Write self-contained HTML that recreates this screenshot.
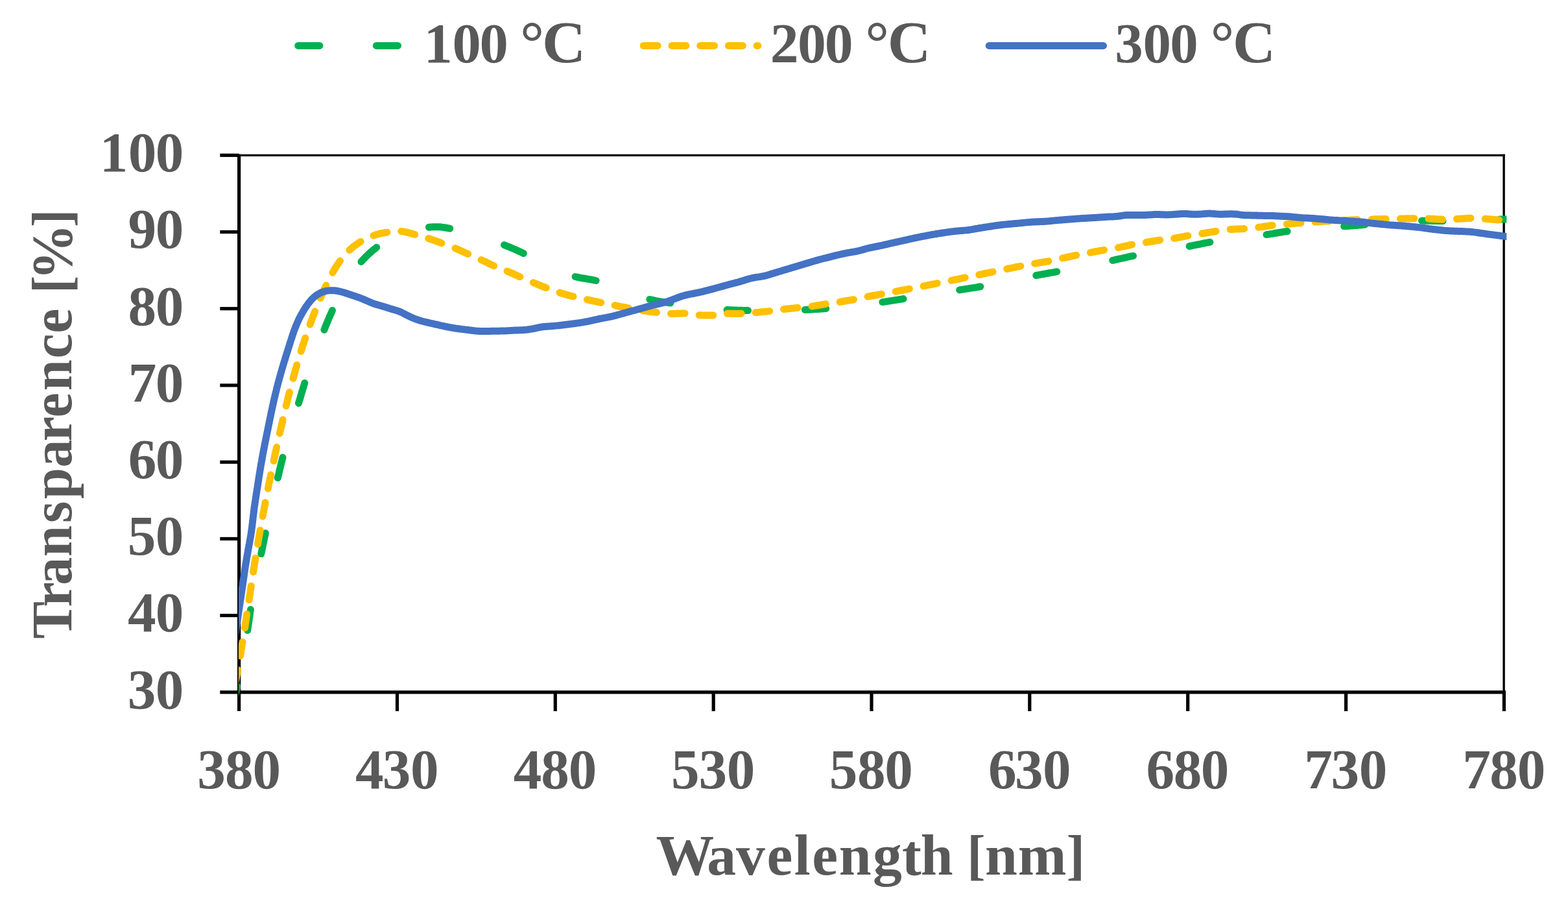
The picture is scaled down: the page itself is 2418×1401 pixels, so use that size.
<!DOCTYPE html>
<html lang="en"><head><meta charset="utf-8"><title>Transparence vs. Wavelength</title>
<style>
html,body{margin:0;padding:0;background:#fff;}
body{width:2418px;height:1401px;overflow:hidden;}
svg{display:block;}
text{font-family:"Liberation Serif", "DejaVu Serif", serif;font-weight:700;font-size:100px;fill:#595959;white-space:pre;}
.ax{stroke:#000;stroke-width:5.2;fill:none;stroke-linecap:butt;}
.s{fill:none;stroke-width:11.0;stroke-linecap:round;stroke-linejoin:round;}
.g{stroke:#00B050;} .y{stroke:#FFC000;} .b{stroke:#4472C4;}
</style></head><body>
<svg width="2418" height="1401" viewBox="0 0 2418 1401">
<rect width="2418" height="1401" fill="#fff"/>
<defs><clipPath id="plot"><rect x="367.9" y="200.0" width="1955.4" height="872.0"/></clipPath></defs>

<g id="legend">
<path class="s g" d="M459.7 70.4H635.8" stroke-dasharray="33.2 87.4"/>
<path class="s y" d="M992.3 70.4H1168.9" stroke-dasharray="21.9 21.8"/>
<path class="s b" d="M1525.2 70.4H1701.5"/>
<text transform="translate(0.00 95.80) scale(0.8868 0.8590)"><tspan x="737.0 786.6 833.9 883.9" y="0.0">100 </tspan><tspan x="904.4 942.8" y="0.0" font-size="105px">°C</tspan></text>
<text transform="translate(0.00 95.80) scale(0.8771 0.8590)"><tspan x="1354.2 1402.3 1450.1 1500.1" y="0.0">200 </tspan><tspan x="1521.3 1560.5" y="0.0" font-size="105px">°C</tspan></text>
<text transform="translate(0.00 95.80) scale(0.8695 0.8590)"><tspan x="1977.4 2027.0 2075.1 2125.1" y="0.0">300 </tspan><tspan x="2146.9 2186.4" y="0.0" font-size="105px">°C</tspan></text>
</g>
<g id="axes">
<path d="M368.6 239.3H2320.8" stroke="#000" stroke-width="3.2" fill="none"/>
<path d="M2319.1 237.7V1066.8" stroke="#000" stroke-width="3.4" fill="none"/>
<path class="ax" d="M368.6 237.7V1096.1"/>
<path class="ax" d="M339.3 1066.8H2322.0"/>
<path class="ax" d="M339.3 239.3H368.6"/>
<path class="ax" d="M339.3 357.5H368.6"/>
<path class="ax" d="M339.3 475.7H368.6"/>
<path class="ax" d="M339.3 593.9H368.6"/>
<path class="ax" d="M339.3 712.2H368.6"/>
<path class="ax" d="M339.3 830.4H368.6"/>
<path class="ax" d="M339.3 948.6H368.6"/>
<path class="ax" d="M612.5 1066.8V1096.1"/>
<path class="ax" d="M856.3 1066.8V1096.1"/>
<path class="ax" d="M1100.2 1066.8V1096.1"/>
<path class="ax" d="M1344.0 1066.8V1096.1"/>
<path class="ax" d="M1587.8 1066.8V1096.1"/>
<path class="ax" d="M1831.7 1066.8V1096.1"/>
<path class="ax" d="M2075.6 1066.8V1096.1"/>
<path class="ax" d="M2319.4 1066.8V1096.1"/>
</g>
<g id="ylabels">
<text transform="translate(0.00 264.15) scale(0.8720 0.8590)"><tspan x="176.2 226.7 275.0" y="0.0">100</tspan></text>
<text transform="translate(0.00 382.36) scale(0.8720 0.8590)"><tspan x="226.5 275.0" y="0.0">90</tspan></text>
<text transform="translate(0.00 500.58) scale(0.8720 0.8590)"><tspan x="226.6 275.0" y="0.0">80</tspan></text>
<text transform="translate(0.00 618.79) scale(0.8720 0.8590)"><tspan x="226.7 275.0" y="0.0">70</tspan></text>
<text transform="translate(0.00 737.01) scale(0.8720 0.8590)"><tspan x="226.7 275.0" y="0.0">60</tspan></text>
<text transform="translate(0.00 855.22) scale(0.8720 0.8590)"><tspan x="225.5 275.0" y="0.0">50</tspan></text>
<text transform="translate(0.00 973.44) scale(0.8720 0.8590)"><tspan x="225.9 275.0" y="0.0">40</tspan></text>
<text transform="translate(0.00 1091.65) scale(0.8720 0.8590)"><tspan x="225.5 275.0" y="0.0">30</tspan></text>
</g>
<g id="xlabels">
<text transform="translate(0.00 1214.75) scale(0.8720 0.8590)"><tspan x="348.8 398.0 446.6" y="0.0">380</tspan></text>
<text transform="translate(0.00 1214.75) scale(0.8720 0.8590)"><tspan x="628.4 676.2 725.9" y="0.0">430</tspan></text>
<text transform="translate(0.00 1214.75) scale(0.8720 0.8590)"><tspan x="908.1 956.8 1005.5" y="0.0">480</tspan></text>
<text transform="translate(0.00 1214.75) scale(0.8720 0.8590)"><tspan x="1187.0 1235.7 1285.3" y="0.0">530</tspan></text>
<text transform="translate(0.00 1214.75) scale(0.8720 0.8590)"><tspan x="1466.5 1516.0 1564.6" y="0.0">580</tspan></text>
<text transform="translate(0.00 1214.75) scale(0.8720 0.8590)"><tspan x="1747.8 1794.8 1844.0" y="0.0">630</tspan></text>
<text transform="translate(0.00 1214.75) scale(0.8720 0.8590)"><tspan x="2026.9 2075.3 2123.7" y="0.0">680</tspan></text>
<text transform="translate(0.00 1214.75) scale(0.8720 0.8590)"><tspan x="2306.6 2353.8 2403.3" y="0.0">730</tspan></text>
<text transform="translate(0.00 1214.75) scale(0.8720 0.8590)"><tspan x="2586.4 2634.5 2683.1" y="0.0">780</tspan></text>
</g>
<g id="titles">
<text transform="translate(0.00 1347.90) scale(0.8973 0.8850)"><tspan x="1127.4 1215.1 1264.9 1317.9 1364.8 1395.5 1441.7 1500.2 1550.1 1582.3 1637.9" y="0.0">Wavelength </tspan><tspan x="1661.6" y="-2.5" font-size="96px">[</tspan><tspan x="1692.8 1749.3" y="0.0">nm</tspan><tspan x="1832.6" y="-2.5" font-size="96px">]</tspan></text>
<text transform="translate(110.00 982.00) rotate(-90) scale(0.8630 0.8850)"><tspan x="-2.8 53.9 93.0 143.8 203.9 246.7 302.9 349.7 392.1 439.9 497.6 542.6 587.0" y="0.0">Transparence </tspan><tspan x="613.8" y="-2.5" font-size="96px">[</tspan><tspan x="637.9" y="0.0">%</tspan><tspan x="732.1" y="-2.5" font-size="96px">]</tspan></text>
</g>
<g id="series" clip-path="url(#plot)">
<path class="s g" d="M360.5 1082L361.1 1079L361.8 1076L362.5 1072.9L363.1 1069.9L363.8 1066.9L364.4 1063.9L365.1 1060.9L365.7 1057.8M381.7 971.6L382.2 968.4L382.6 965.2L383.1 962L383.6 958.8L384 955.6L384.5 952.3L385 949.1L385.4 945.9L385.9 942.7L386.4 939.5M402.8 853.6L403.4 850.4L404.1 847.2L404.7 844L405.4 840.8L406 837.7L406.7 834.5L407.3 831.3L408 828.1L408.7 824.9L409.3 821.7M428.4 736.6L429.1 733.4L429.9 730.3L430.6 727.1L431.3 724L432.1 720.8L432.8 717.6L433.6 714.5L434.4 711.3L435.2 708.2L436 705M460.5 621.4L461.4 618.3L462.4 615.2L463.3 612.1L464.2 608.9L465.1 605.8L466 602.7L467 599.6L467.9 596.5L468.9 593.4L469.8 590.3M499.9 508.4L501.1 505.3L502.3 502.3L503.6 499.3L504.8 496.3L506.1 493.3L507.3 490.3L508.6 487.3L509.9 484.4L511.2 481.4L512.5 478.4M557 403.4L559.2 401L561.4 398.6L563.7 396.3L566 394L568.3 391.8L570.7 389.6L573.1 387.4L575.6 385.3L578.2 383.3L580.7 381.3M661.4 350.2L664.6 349.9L667.9 349.7L671.1 349.7L674.4 349.7L677.6 349.8L680.9 350.1L684.1 350.5L687.3 351L690.5 351.6L693.7 352.2M777.5 377.6L780.6 378.8L783.6 380L786.6 381.2L789.6 382.5L792.6 383.8L795.5 385.1L798.5 386.4L801.5 387.8L804.4 389.1L807.3 390.5M887.1 426.5L890.3 427.2L893.5 427.9L896.7 428.5L899.9 429L903.1 429.5L906.3 430.1L909.5 430.6L912.7 431.2L915.9 431.8L919.1 432.5M1001.9 461.5L1005.1 462.2L1008.3 462.9L1011.4 463.6L1014.6 464.1L1017.8 464.7L1021.1 465.2L1024.3 465.6L1027.5 466.1L1030.7 466.5L1033.9 467M1121.1 477.5L1124.3 477.7L1127.6 477.8L1130.8 478L1134 478.1L1137.3 478.2L1140.5 478.3L1143.8 478.3L1147 478.4L1150.3 478.5L1153.5 478.5M1241.3 477.5L1244.5 477.3L1247.8 477.2L1251 477L1254.3 476.8L1257.5 476.6L1260.8 476.4L1264 476.2L1267.3 476L1270.5 475.7L1273.7 475.5M1360.9 465.6L1364.1 465.1L1367.3 464.6L1370.5 464.1L1373.8 463.6L1377 463.1L1380.2 462.6L1383.4 462.1L1386.6 461.6L1389.8 461.1L1393 460.6M1479.7 446.9L1482.9 446.4L1486.1 445.9L1489.3 445.4L1492.5 444.9L1495.7 444.4L1499 443.9L1502.2 443.4L1505.4 442.9L1508.6 442.3L1511.8 441.8M1597.8 424.5L1601 423.9L1604.2 423.3L1607.4 422.7L1610.6 422.2L1613.8 421.6L1617 421L1620.2 420.4L1623.4 419.9L1626.6 419.3L1629.8 418.7M1715.8 401.3L1719 400.6L1722.1 399.9L1725.3 399.2L1728.5 398.5L1731.6 397.8L1734.8 397.1L1738 396.4L1741.2 395.7L1744.3 395L1747.5 394.4M1834.1 379.5L1837.2 378.9L1840.4 378.2L1843.6 377.6L1846.8 376.9L1850 376.3L1853.2 375.6L1856.4 375L1859.5 374.4L1862.7 373.8L1865.9 373.2M1953 361.6L1956.2 361.1L1959.4 360.6L1962.6 360.1L1965.9 359.5L1969.1 359L1972.3 358.5L1975.5 358L1978.7 357.4L1981.9 356.9L1985.1 356.5M2072.6 348.8L2075.8 348.6L2079.1 348.4L2082.3 348.1L2085.6 347.9L2088.8 347.6L2092 347.4L2095.3 347.1L2098.5 346.9L2101.8 346.6L2105 346.3M2192.5 340.2L2195.8 340.2L2199 340.2L2202.3 340.3L2205.5 340.3L2208.8 340.4L2212 340.4L2215.3 340.5L2218.5 340.5L2221.8 340.6L2225 340.6M2312.6 338.1L2315.8 338L2319 338L2322.2 338L2325.4 338L2328.6 338L2331.8 338L2335 338"/>
<path class="s y" d="M362.6 1053.8L363.2 1050.7L363.8 1047.7L364.4 1044.7L365 1041.6L365.5 1038.6L366.1 1035.6L366.6 1032.5M370.5 1010.8L371 1007.7L371.5 1004.7L372 1001.7L372.5 998.6L373 995.6L373.5 992.5L374 989.5M377.5 967.7L378 964.7L378.4 961.6L378.9 958.6L379.4 955.5L379.8 952.5L380.3 949.4L380.8 946.4M384 924.6L384.5 921.6L385 918.5L385.4 915.5L385.9 912.4L386.3 909.4L386.8 906.3L387.3 903.3M390.6 881.6L391.1 878.5L391.5 875.5L392 872.4L392.5 869.4L393 866.3L393.5 863.3L394 860.2M397.6 838.6L398.1 835.6L398.6 832.5L399.1 829.5L399.6 826.5L400.2 823.4L400.7 820.4L401.2 817.3M405.1 795.8L405.7 792.7L406.3 789.7L406.8 786.7L407.4 783.6L408 780.6L408.6 777.6L409.1 774.5M413.3 753L413.9 750L414.5 747L415.1 743.9L415.8 740.9L416.4 737.9L417 734.9L417.6 731.8M422.1 710.4L422.7 707.3L423.4 704.3L424 701.3L424.7 698.3L425.3 695.3L426 692.3L426.6 689.2M431.3 667.9L432 664.9L432.7 661.9L433.4 658.9L434.1 655.9L434.8 652.9L435.5 649.9L436.1 646.9M441.2 625.6L441.9 622.6L442.7 619.6L443.4 616.6L444.1 613.6L444.9 610.6L445.6 607.6L446.4 604.6M452 583.3L452.8 580.3L453.6 577.4L454.5 574.4L455.3 571.4L456.1 568.4L457 565.5L457.8 562.5M464.2 541.4L465.1 538.5L466 535.5L466.9 532.6L467.9 529.7L468.9 526.7L469.8 523.8L470.8 520.9M478.1 500.1L479.1 497.2L480.2 494.3L481.3 491.4L482.4 488.5L483.5 485.7L484.6 482.8L485.7 479.9M494.1 459.5L495.3 456.7L496.5 453.9L497.8 451.1L499 448.2L500.3 445.4L501.6 442.6L502.9 439.8M512.9 420.3L514.4 417.6L516 414.9L517.6 412.3L519.2 409.7L520.9 407.1L522.7 404.6L524.5 402.1M538.9 385.5L541.2 383.4L543.5 381.4L545.9 379.4L548.4 377.6L550.9 375.8L553.5 374.1L556.1 372.4M576 363.1L578.9 362.1L581.8 361.2L584.8 360.4L587.8 359.7L590.9 359.1L593.9 358.6L596.9 358.1M618.7 356.4L621.7 356.9L624.8 357.5L627.8 358.2L630.8 358.9L633.8 359.7L636.7 360.6L639.7 361.4M660.8 367.6L663.7 368.5L666.7 369.5L669.6 370.5L672.5 371.5L675.4 372.6L678.3 373.7L681.1 374.8M702 382.6L704.8 383.9L707.7 385.1L710.5 386.4L713.3 387.6L716.1 388.9L718.9 390.2L721.7 391.4M742.1 400.4L744.9 401.8L747.7 403.1L750.5 404.4L753.3 405.8L756 407.1L758.8 408.4L761.6 409.7M782.1 417.9L784.9 419.2L787.8 420.4L790.6 421.6L793.4 422.9L796.2 424.1L799.1 425.4L801.9 426.6M822.3 435.5L825.1 436.7L828 437.9L830.8 439.1L833.7 440.2L836.5 441.4L839.4 442.5L842.3 443.6M863.1 451L866 451.9L869 452.9L872 453.7L874.9 454.6L877.9 455.4L880.9 456.2L883.9 456.9M905.5 461.8L908.5 462.5L911.6 463.1L914.6 463.8L917.6 464.4L920.6 465L923.6 465.6L926.7 466.3M948.1 470.7L951.1 471.4L954.2 472L957.2 472.6L960.2 473.2L963.2 473.8L966.3 474.3L969.3 474.9M991.1 478.7L994.2 479.1L997.2 479.5L1000.3 480L1003.3 480.4L1006.4 480.8L1009.5 481.1L1012.5 481.5M1034.5 483.6L1037.6 483.5L1040.7 483.4L1043.8 483.3L1046.8 483.3L1049.9 483.1L1053 483L1056.1 483M1078.2 485.7L1081.3 485.8L1084.4 485.9L1087.4 485.9L1090.5 486L1093.6 486L1096.7 486L1099.8 485.9M1121.5 483.3L1124.5 483.3L1127.6 483.3L1130.7 483.4L1133.8 483.4L1136.9 483.4L1140 483.4L1143.1 483.3M1165.2 481.6L1168.2 481.4L1171.3 481.1L1174.4 480.8L1177.5 480.5L1180.5 480.2L1183.6 479.9L1186.7 479.6M1208.6 476.6L1211.6 476.3L1214.7 475.9L1217.8 475.6L1220.8 475.3L1223.9 475L1227 474.6L1230 474.3M1252 472.1L1255.1 471.6L1258.1 471.1L1261.2 470.6L1264.2 470.1L1267.2 469.6L1270.3 469.1L1273.3 468.6M1295.1 465.4L1298.2 464.8L1301.2 464.3L1304.3 463.8L1307.3 463.3L1310.3 462.7L1313.4 462.2L1316.4 461.7M1338.1 457.1L1341.2 456.6L1344.2 456L1347.2 455.5L1350.3 455L1353.3 454.4L1356.3 453.9L1359.4 453.3M1381.1 449.3L1384.2 448.7L1387.2 448.1L1390.2 447.5L1393.3 446.9L1396.3 446.4L1399.3 445.8L1402.3 445.2M1424.1 440.9L1427.1 440.3L1430.2 439.7L1433.2 439.1L1436.2 438.5L1439.2 437.9L1442.3 437.3L1445.3 436.7M1467.1 432.3L1470.1 431.6L1473.1 431L1476.1 430.4L1479.1 429.8L1482.2 429.1L1485.2 428.5L1488.2 427.9M1509.8 423.4L1512.9 422.8L1515.9 422.2L1518.9 421.5L1521.9 420.9L1524.9 420.3L1528 419.7L1531 419M1552.7 414.5L1555.7 413.9L1558.7 413.3L1561.7 412.7L1564.7 412L1567.8 411.4L1570.8 410.8L1573.8 410.2M1595.6 406.1L1598.7 405.6L1601.7 405.1L1604.8 404.6L1607.8 404.1L1610.8 403.6L1613.9 403.1L1616.9 402.6M1638.5 397.9L1641.6 397.3L1644.6 396.6L1647.6 396L1650.6 395.3L1653.6 394.7L1656.6 394L1659.7 393.4M1681.4 389.3L1684.4 388.7L1687.4 388.1L1690.5 387.5L1693.5 387L1696.5 386.4L1699.6 385.9L1702.6 385.3M1724.5 381.7L1727.5 381L1730.5 380.4L1733.5 379.7L1736.5 379L1739.5 378.4L1742.5 377.7L1745.6 377M1767.4 373.5L1770.4 373L1773.5 372.5L1776.5 372L1779.6 371.5L1782.6 371L1785.7 370.5L1788.7 370M1810.7 367.3L1813.7 366.8L1816.7 366.2L1819.8 365.6L1822.8 365L1825.8 364.5L1828.9 363.9L1831.9 363.4M1853.8 360L1856.8 359.5L1859.9 359L1862.9 358.5L1865.9 358L1869 357.5L1872 357L1875.1 356.5M1897.1 353.5L1900.1 353.4L1903.2 353.2L1906.3 353.1L1909.4 353L1912.5 352.8L1915.5 352.7L1918.6 352.6M1940.8 350.3L1943.9 349.9L1946.9 349.5L1950 349L1953 348.6L1956.1 348.2L1959.1 347.8L1962.2 347.4M1984.4 345.4L1987.5 345.1L1990.6 344.9L1993.6 344.6L1996.7 344.4L1999.8 344.1L2002.9 343.9L2005.9 343.7M2028.2 342.1L2031.3 341.9L2034.4 341.7L2037.4 341.5L2040.5 341.3L2043.6 341.1L2046.7 341L2049.8 340.8M2072 339.6L2075 339.5L2078.1 339.4L2081.2 339.2L2084.3 339.1L2087.4 339L2090.5 338.8L2093.5 338.7M2115.6 338L2118.7 337.9L2121.8 337.8L2124.9 337.7L2128 337.6L2131 337.5L2134.1 337.5L2137.2 337.4M2159.3 337L2162.4 336.9L2165.4 336.9L2168.5 336.8L2171.6 336.8L2174.7 336.8L2177.8 336.7L2180.9 336.7M2202.9 337L2206 337.2L2209.1 337.4L2212.2 337.5L2215.2 337.7L2218.3 337.9L2221.4 338.1L2224.5 338.3M2246.4 337.5L2249.5 337.3L2252.6 337.1L2255.7 336.9L2258.8 336.7L2261.8 336.5L2264.9 336.3L2268 336.2M2290.1 337.3L2293.1 337.5L2296.2 337.8L2299.3 338L2302.4 338.2L2305.4 338.4L2308.5 338.7L2311.6 338.9M2333.1 338.2L2335 338.3"/>
<path class="s b" d="M359.5 1000L359.8 998L360.1 996L360.4 994.1L360.7 992.1L361 990.1L361.3 988.1L361.6 986.2L361.9 984.2L362.2 982.2L362.5 980.2L362.8 978.2L363.1 976.3L363.4 974.3L363.7 972.3L363.9 970.3L364.2 968.3L364.5 966.4L364.8 964.4L365.1 962.4L365.4 960.4L365.7 958.5L366 956.5L366.3 954.5L366.6 952.5L366.9 950.5L367.2 948.6L367.5 946.6L367.8 944.6L368.1 942.6L368.4 940.6L368.7 938.7L369 936.7L369.3 934.7L369.6 932.7L369.9 930.8L370.2 928.8L370.5 926.8L370.8 924.8L371.1 922.8L371.4 920.9L371.7 918.9L371.9 916.9L372.2 914.9L372.5 912.9L372.8 911L373.1 909L373.4 907L373.7 905L374 903L374.3 901.1L374.5 899.1L374.8 897.1L375.1 895.1L375.4 893.1L375.7 891.2L376 889.2L376.3 887.2L376.5 885.2L376.8 883.2L377.1 881.3L377.4 879.3L377.7 877.3L378 875.3L378.3 873.4L378.6 871.4L378.9 869.4L379.3 867.4L379.6 865.5L379.9 863.5L380.2 861.5L380.6 859.5L380.9 857.6L381.3 855.6L381.6 853.6L382 851.7L382.3 849.7L382.7 847.7L383 845.7L383.4 843.8L383.7 841.8L384.1 839.8L384.5 837.9L384.8 835.9L385.2 833.9L385.5 832L385.9 830L386.2 828L386.6 826.1L386.9 824.1L387.2 822.1L387.5 820.1L387.8 818.1L388 816.2L388.3 814.2L388.6 812.2L388.8 810.2L389 808.2L389.3 806.2L389.5 804.3L389.7 802.3L390 800.3L390.2 798.3L390.4 796.3L390.7 794.3L390.9 792.3L391.1 790.3L391.4 788.4L391.6 786.4L391.9 784.4L392.1 782.4L392.4 780.4L392.7 778.4L393 776.5L393.3 774.5L393.6 772.5L393.9 770.5L394.2 768.5L394.5 766.6L394.8 764.6L395.1 762.6L395.4 760.6L395.7 758.7L396 756.7L396.3 754.7L396.7 752.7L397 750.8L397.3 748.8L397.6 746.8L397.9 744.8L398.2 742.9L398.5 740.9L398.8 738.9L399.1 736.9L399.4 734.9L399.7 733L400.1 731L400.4 729L400.7 727L401 725.1L401.3 723.1L401.7 721.1L402 719.2L402.3 717.2L402.7 715.2L403 713.2L403.4 711.3L403.7 709.3L404.1 707.3L404.4 705.4L404.8 703.4L405.1 701.4L405.5 699.5L405.9 697.5L406.2 695.5L406.6 693.6L407 691.6L407.4 689.6L407.7 687.7L408.1 685.7L408.5 683.7L408.9 681.8L409.3 679.8L409.7 677.9L410.1 675.9L410.5 673.9L410.9 672L411.3 670L411.7 668L412.1 666.1L412.5 664.1L412.9 662.2L413.3 660.2L413.7 658.2L414.1 656.3L414.5 654.3L414.9 652.4L415.3 650.4L415.7 648.4L416.1 646.5L416.5 644.5L416.9 642.6L417.3 640.6L417.7 638.6L418.1 636.7L418.5 634.7L418.9 632.8L419.4 630.8L419.8 628.9L420.2 626.9L420.6 625L421.1 623L421.5 621.1L421.9 619.1L422.4 617.1L422.8 615.2L423.3 613.2L423.7 611.3L424.2 609.4L424.6 607.4L425.1 605.5L425.6 603.5L426.1 601.6L426.5 599.6L427 597.7L427.5 595.8L428 593.8L428.5 591.9L429 589.9L429.5 588L430.1 586.1L430.6 584.1L431.1 582.2L431.6 580.3L432.2 578.4L432.7 576.4L433.3 574.5L433.8 572.6L434.4 570.7L434.9 568.7L435.5 566.8L436.1 564.9L436.6 563L437.2 561.1L437.8 559.2L438.4 557.2L439 555.3L439.6 553.4L440.1 551.5L440.7 549.6L441.3 547.7L441.9 545.8L442.5 543.9L443.1 542L443.7 540.1L444.3 538.2L444.9 536.2L445.5 534.3L446.1 532.4L446.7 530.5L447.3 528.6L447.9 526.7L448.5 524.8L449.2 522.9L449.8 521L450.4 519.1L451 517.1L451.6 515.2L452.3 513.4L452.9 511.5L453.6 509.6L454.3 507.7L455 505.8L455.7 504L456.5 502.1L457.2 500.2L458 498.4L458.8 496.6L459.6 494.8L460.5 492.9L461.3 491.1L462.2 489.4L463.2 487.6L464.1 485.8L465.1 484.1L466.1 482.3L467.1 480.6L468.1 478.9L469.1 477.2L470.2 475.5L471.3 473.8L472.4 472.1L473.5 470.5L474.7 468.8L475.9 467.2L477.1 465.7L478.4 464.1L479.7 462.6L481.1 461.1L482.5 459.7L483.9 458.3L485.5 457L487 455.8L488.7 454.6L490.3 453.5L492.1 452.5L493.9 451.6L495.7 450.8L497.5 450L499.4 449.4L501.4 448.8L503.3 448.4L505.3 448.1L507.3 447.9L509.3 447.7L511.3 447.7L513.3 447.7L515.3 447.8L517.3 448L519.3 448.3L521.3 448.6L523.2 449L525.2 449.5L527.1 450L529 450.5L531 451.1L532.9 451.7L534.8 452.3L536.7 452.9L538.6 453.6L540.5 454.2L542.4 454.8L544.3 455.5L546.2 456.1L548.1 456.7L550 457.4L551.9 458L553.7 458.7L555.6 459.4L557.5 460.1L559.3 460.8L561.2 461.6L563 462.4L564.9 463.2L566.7 464L568.5 464.8L570.4 465.6L572.2 466.4L574.1 467.1L575.9 467.8L577.8 468.5L579.7 469.1L581.6 469.7L583.6 470.2L585.5 470.8L587.4 471.3L589.3 471.9L591.3 472.4L593.2 473L595.1 473.6L597 474.2L598.9 474.8L600.8 475.4L602.7 476L604.6 476.6L606.6 477.1L608.5 477.7L610.4 478.2L612.3 478.8L614.2 479.4L616.1 480.1L617.9 480.9L619.7 481.8L621.5 482.7L623.3 483.6L625.1 484.6L626.9 485.5L628.7 486.4L630.5 487.3L632.3 488.1L634.1 489L635.9 489.8L637.7 490.5L639.6 491.3L641.5 492L643.4 492.7L645.3 493.3L647.2 493.9L649.1 494.4L651 495L653 495.5L654.9 496L656.8 496.5L658.8 496.9L660.7 497.4L662.7 497.8L664.6 498.3L666.6 498.7L668.5 499.1L670.5 499.6L672.5 500L674.4 500.4L676.4 500.9L678.3 501.3L680.3 501.8L682.2 502.2L684.2 502.6L686.1 503.1L688.1 503.5L690 503.9L692 504.3L694 504.6L695.9 505L697.9 505.3L699.9 505.6L701.9 506L703.8 506.3L705.8 506.5L707.8 506.8L709.8 507.1L711.8 507.3L713.7 507.6L715.7 507.8L717.7 508.1L719.7 508.3L721.7 508.5L723.7 508.8L725.7 509L727.7 509.3L729.6 509.5L731.6 509.8L733.6 510L735.6 510.2L737.6 510.3L739.6 510.5L741.6 510.6L743.6 510.6L745.6 510.6L747.6 510.6L749.6 510.6L751.6 510.5L753.6 510.5L755.6 510.4L757.6 510.3L759.6 510.3L761.6 510.2L763.6 510.2L765.6 510.2L767.6 510.2L769.6 510.2L771.6 510.1L773.6 510.1L775.6 510.1L777.6 510L779.6 509.9L781.6 509.8L783.6 509.7L785.6 509.6L787.6 509.4L789.6 509.3L791.6 509.2L793.6 509.1L795.6 509L797.6 509L799.6 508.9L801.6 508.8L803.6 508.8L805.6 508.7L807.6 508.5L809.6 508.4L811.6 508.2L813.5 508L815.5 507.7L817.5 507.4L819.5 507.1L821.5 506.8L823.4 506.4L825.4 506L827.3 505.5L829.3 505.1L831.3 504.7L833.2 504.3L835.2 504L837.2 503.7L839.2 503.5L841.1 503.3L843.1 503.2L845.1 503L847.1 502.9L849.1 502.7L851.1 502.6L853.1 502.4L855.1 502.3L857.1 502.1L859.1 501.9L861.1 501.7L863.1 501.5L865.1 501.3L867.1 501L869 500.8L871 500.5L873 500.3L875 500L877 499.8L879 499.5L880.9 499.3L882.9 499L884.9 498.8L886.9 498.5L888.9 498.2L890.9 497.9L892.8 497.7L894.8 497.4L896.8 497.1L898.8 496.7L900.7 496.4L902.7 496L904.7 495.7L906.6 495.3L908.6 494.9L910.6 494.5L912.5 494L914.5 493.6L916.4 493.2L918.4 492.7L920.3 492.3L922.3 491.9L924.2 491.4L926.2 491L928.2 490.7L930.1 490.3L932.1 489.9L934.1 489.6L936 489.2L938 488.8L940 488.4L941.9 488L943.9 487.6L945.8 487.1L947.7 486.6L949.7 486.1L951.6 485.6L953.5 485L955.5 484.5L957.4 484L959.3 483.4L961.2 482.9L963.2 482.4L965.1 481.8L967 481.3L969 480.8L970.9 480.3L972.8 479.7L974.8 479.2L976.7 478.7L978.6 478.2L980.6 477.7L982.5 477.2L984.4 476.6L986.4 476.1L988.3 475.6L990.2 475L992.1 474.5L994.1 473.9L996 473.4L997.9 472.8L999.8 472.3L1001.8 471.8L1003.7 471.2L1005.6 470.7L1007.6 470.2L1009.5 469.8L1011.5 469.3L1013.4 468.8L1015.4 468.4L1017.3 467.9L1019.2 467.5L1021.2 467L1023.1 466.5L1025.1 466L1027 465.4L1028.9 464.8L1030.8 464.1L1032.7 463.5L1034.5 462.8L1036.4 462.1L1038.3 461.4L1040.2 460.7L1042 460L1043.9 459.2L1045.8 458.5L1047.6 457.8L1049.5 457.2L1051.4 456.5L1053.3 456L1055.3 455.4L1057.2 454.9L1059.2 454.5L1061.1 454L1063.1 453.6L1065 453.2L1067 452.9L1069 452.5L1070.9 452.1L1072.9 451.7L1074.9 451.3L1076.8 450.9L1078.8 450.5L1080.7 450L1082.7 449.6L1084.6 449.1L1086.5 448.6L1088.5 448.1L1090.4 447.6L1092.4 447.1L1094.3 446.6L1096.2 446.1L1098.2 445.6L1100.1 445.1L1102 444.6L1104 444L1105.9 443.5L1107.8 443L1109.7 442.5L1111.7 441.9L1113.6 441.4L1115.5 440.8L1117.5 440.3L1119.4 439.8L1121.3 439.2L1123.2 438.7L1125.2 438.2L1127.1 437.7L1129.1 437.2L1131 436.7L1132.9 436.2L1134.9 435.7L1136.8 435.2L1138.7 434.7L1140.7 434.1L1142.6 433.6L1144.5 433L1146.4 432.4L1148.3 431.8L1150.2 431.2L1152.1 430.6L1154 430L1156 429.5L1157.9 429L1159.9 428.5L1161.8 428.1L1163.8 427.8L1165.8 427.4L1167.7 427.1L1169.7 426.9L1171.7 426.6L1173.7 426.2L1175.6 425.9L1177.6 425.5L1179.6 425.1L1181.5 424.6L1183.4 424.1L1185.4 423.5L1187.3 422.9L1189.2 422.3L1191.1 421.7L1193 421.1L1194.9 420.6L1196.8 420L1198.7 419.4L1200.7 418.8L1202.6 418.2L1204.5 417.7L1206.4 417.1L1208.3 416.5L1210.2 415.9L1212.2 415.4L1214.1 414.8L1216 414.2L1217.9 413.7L1219.8 413.1L1221.7 412.5L1223.7 411.9L1225.6 411.4L1227.5 410.8L1229.4 410.2L1231.3 409.7L1233.2 409.1L1235.2 408.5L1237.1 407.9L1239 407.4L1240.9 406.8L1242.8 406.2L1244.7 405.6L1246.7 405.1L1248.6 404.5L1250.5 403.9L1252.4 403.3L1254.3 402.7L1256.2 402.2L1258.2 401.6L1260.1 401.1L1262 400.6L1263.9 400L1265.9 399.5L1267.8 399L1269.8 398.5L1271.7 398L1273.6 397.6L1275.6 397.1L1277.5 396.6L1279.5 396.1L1281.4 395.6L1283.3 395.1L1285.3 394.6L1287.2 394.1L1289.2 393.6L1291.1 393.2L1293 392.7L1295 392.3L1296.9 391.8L1298.9 391.4L1300.8 391L1302.8 390.6L1304.8 390.2L1306.7 389.8L1308.7 389.4L1310.7 389.1L1312.7 388.8L1314.6 388.4L1316.6 388.1L1318.6 387.8L1320.5 387.4L1322.5 387L1324.5 386.5L1326.4 386L1328.3 385.5L1330.2 384.9L1332.2 384.4L1334.1 383.8L1336 383.3L1337.9 382.8L1339.9 382.3L1341.8 381.9L1343.8 381.5L1345.8 381.1L1347.7 380.7L1349.7 380.3L1351.6 379.9L1353.6 379.5L1355.6 379.1L1357.5 378.7L1359.5 378.3L1361.4 377.9L1363.4 377.4L1365.3 377L1367.3 376.5L1369.2 376.1L1371.2 375.6L1373.1 375.2L1375.1 374.7L1377 374.3L1379 373.8L1380.9 373.4L1382.9 373L1384.8 372.6L1386.8 372.1L1388.8 371.7L1390.7 371.3L1392.7 370.8L1394.6 370.4L1396.6 370L1398.5 369.5L1400.5 369.1L1402.4 368.7L1404.4 368.2L1406.3 367.8L1408.3 367.4L1410.2 366.9L1412.2 366.5L1414.2 366.1L1416.1 365.7L1418.1 365.3L1420 364.9L1422 364.5L1424 364.1L1425.9 363.8L1427.9 363.4L1429.9 363L1431.8 362.6L1433.8 362.3L1435.8 361.9L1437.7 361.5L1439.7 361.2L1441.7 360.9L1443.6 360.5L1445.6 360.2L1447.6 359.9L1449.6 359.6L1451.5 359.3L1453.5 359L1455.5 358.7L1457.5 358.4L1459.5 358.1L1461.4 357.8L1463.4 357.6L1465.4 357.3L1467.4 357L1469.4 356.8L1471.4 356.6L1473.4 356.3L1475.3 356.1L1477.3 356L1479.3 355.8L1481.3 355.6L1483.3 355.5L1485.3 355.3L1487.3 355.1L1489.3 354.9L1491.3 354.7L1493.3 354.5L1495.2 354.2L1497.2 353.9L1499.2 353.6L1501.2 353.2L1503.1 352.9L1505.1 352.5L1507.1 352.2L1509.1 351.8L1511 351.5L1513 351.2L1515 350.9L1517 350.5L1518.9 350.2L1520.9 349.9L1522.9 349.6L1524.9 349.3L1526.8 349L1528.8 348.7L1530.8 348.4L1532.8 348.1L1534.8 347.8L1536.7 347.5L1538.7 347.3L1540.7 347L1542.7 346.8L1544.7 346.5L1546.7 346.3L1548.6 346.1L1550.6 345.9L1552.6 345.7L1554.6 345.5L1556.6 345.3L1558.6 345.2L1560.6 345L1562.6 344.8L1564.6 344.6L1566.6 344.5L1568.6 344.3L1570.6 344.1L1572.6 343.9L1574.5 343.7L1576.5 343.5L1578.5 343.3L1580.5 343.1L1582.5 342.9L1584.5 342.7L1586.5 342.6L1588.5 342.4L1590.5 342.2L1592.5 342.1L1594.5 342L1596.5 341.9L1598.5 341.8L1600.5 341.7L1602.5 341.7L1604.5 341.6L1606.5 341.5L1608.5 341.5L1610.5 341.3L1612.5 341.2L1614.5 341.1L1616.4 340.9L1618.4 340.7L1620.4 340.5L1622.4 340.3L1624.4 340.1L1626.4 339.9L1628.4 339.7L1630.4 339.6L1632.4 339.4L1634.4 339.2L1636.4 339L1638.4 338.9L1640.4 338.7L1642.4 338.5L1644.3 338.4L1646.3 338.2L1648.3 338L1650.3 337.9L1652.3 337.7L1654.3 337.6L1656.3 337.4L1658.3 337.3L1660.3 337.1L1662.3 337L1664.3 336.9L1666.3 336.7L1668.3 336.6L1670.3 336.5L1672.3 336.4L1674.3 336.3L1676.3 336.2L1678.3 336.1L1680.3 336L1682.3 335.8L1684.3 335.7L1686.3 335.6L1688.3 335.5L1690.3 335.4L1692.3 335.2L1694.2 335.1L1696.2 335L1698.2 334.8L1700.2 334.7L1702.2 334.6L1704.2 334.4L1706.2 334.3L1708.2 334.2L1710.2 334.1L1712.2 334L1714.2 334L1716.2 333.9L1718.2 333.8L1720.2 333.6L1722.2 333.5L1724.2 333.3L1726.2 333L1728.2 332.7L1730.1 332.4L1732.1 332.1L1734.1 331.8L1736.1 331.7L1738.1 331.5L1740.1 331.5L1742.1 331.5L1744.1 331.4L1746.1 331.4L1748.1 331.4L1750.1 331.4L1752.1 331.5L1754.1 331.5L1756.1 331.5L1758.1 331.5L1760.1 331.5L1762.1 331.4L1764.1 331.4L1766.1 331.4L1768.1 331.3L1770.1 331.2L1772.1 331.1L1774.1 331L1776.1 330.9L1778.1 330.7L1780.1 330.6L1782.1 330.5L1784.1 330.5L1786.1 330.5L1788.1 330.6L1790.1 330.7L1792.1 330.7L1794.1 330.8L1796.1 330.9L1798.1 330.9L1800.1 330.9L1802.1 330.9L1804.1 330.8L1806.1 330.8L1808.1 330.6L1810.1 330.5L1812.1 330.3L1814.1 330.2L1816.1 330L1818.1 329.8L1820.1 329.7L1822.1 329.6L1824.1 329.5L1826 329.5L1828 329.5L1830 329.6L1832 329.7L1834 329.9L1836 330L1838 330.2L1840 330.3L1842 330.3L1844 330.3L1846 330.3L1848 330.2L1850 330.1L1852 329.9L1854 329.8L1856 329.6L1858 329.5L1860 329.3L1862 329.2L1864 329.1L1866 329.1L1868 329.2L1870 329.4L1872 329.5L1874 329.7L1876 329.9L1878 330.1L1880 330.2L1882 330.3L1884 330.3L1886 330.2L1888 330.1L1890 330L1892 329.9L1894 329.9L1896 329.8L1898 329.8L1900 329.8L1902 329.9L1903.9 330L1905.9 330.1L1908 330.3L1910 330.6L1912 330.9L1914 331.2L1915.9 331.4L1917.6 331.6L1919.4 331.7L1921.4 331.7L1923.8 331.8L1926.6 331.8L1929.9 331.9L1933.2 332L1936.4 332.1L1939 332.1L1941 332.2L1941.9 332.2L1941.5 332.3L1939.7 332.3L1938.8 332.3L1939.3 332.3L1940.8 332.3L1943.2 332.3L1946.2 332.3L1949.5 332.4L1952.9 332.4L1956.1 332.4L1959 332.5L1961.5 332.6L1963.7 332.6L1965.7 332.7L1967.5 332.8L1969.1 332.9L1970.8 333L1972.4 333.1L1974.1 333.2L1976 333.2L1977.9 333.3L1979.9 333.4L1982 333.5L1984 333.6L1986.1 333.7L1988.2 333.8L1990.3 334L1992.3 334.2L1994.3 334.4L1996.2 334.6L1998.2 334.8L2000.2 335L2002.2 335.2L2004.2 335.4L2006.2 335.6L2008.2 335.7L2010.2 335.9L2012.2 336L2014.2 336L2016.2 336.1L2018.2 336.2L2020.2 336.3L2022.2 336.4L2024.2 336.5L2026.2 336.6L2028.2 336.8L2030.2 336.9L2032.1 337.1L2034.1 337.3L2036.1 337.4L2038.1 337.6L2040.1 337.8L2042.1 338L2044.1 338.2L2046.1 338.4L2048.1 338.6L2050.1 338.8L2052.1 338.9L2054.1 339.1L2056.1 339.3L2058.1 339.4L2060 339.5L2062 339.6L2064 339.7L2066 339.9L2068 340L2070 340.1L2072 340.2L2074 340.3L2076 340.5L2078 340.6L2080 340.8L2082 340.9L2084 341L2086 341.2L2088 341.3L2090 341.5L2092 341.6L2094 341.7L2096 341.8L2098 342L2100 342.1L2102 342.3L2104 342.5L2105.9 342.8L2107.9 343L2109.9 343.3L2111.9 343.6L2113.9 343.9L2115.9 344.1L2117.8 344.3L2119.8 344.5L2121.8 344.7L2123.8 344.9L2125.8 345.1L2127.8 345.3L2129.8 345.5L2131.8 345.7L2133.8 345.9L2135.8 346.1L2137.8 346.3L2139.7 346.4L2141.7 346.6L2143.7 346.8L2145.7 346.9L2147.7 347L2149.7 347.2L2151.7 347.3L2153.7 347.4L2155.7 347.5L2157.7 347.7L2159.7 347.8L2161.7 348L2163.7 348.2L2165.7 348.3L2167.7 348.5L2169.7 348.7L2171.7 348.8L2173.7 349L2175.7 349.2L2177.6 349.4L2179.6 349.6L2181.6 349.8L2183.6 350L2185.6 350.2L2187.6 350.4L2189.6 350.6L2191.6 350.9L2193.5 351.1L2195.5 351.4L2197.5 351.7L2199.5 351.9L2201.5 352.2L2203.5 352.5L2205.4 352.7L2207.4 353L2209.4 353.2L2211.4 353.5L2213.4 353.7L2215.4 353.9L2217.4 354.2L2219.3 354.4L2221.3 354.6L2223.3 354.8L2225.3 355.1L2227.3 355.3L2229.3 355.4L2231.3 355.6L2233.3 355.7L2235.3 355.8L2237.3 355.9L2239.3 356L2241.3 356.1L2243.3 356.2L2245.3 356.3L2247.3 356.3L2249.3 356.4L2251.3 356.5L2253.3 356.6L2255.3 356.6L2257.3 356.7L2259.3 356.8L2261.3 356.9L2263.3 357L2265.3 357.1L2267.3 357.3L2269.3 357.4L2271.2 357.6L2273.2 357.9L2275.2 358.1L2277.2 358.4L2279.2 358.7L2281.2 359L2283.1 359.3L2285.1 359.6L2287.1 359.8L2289.1 360.1L2291.1 360.4L2293 360.7L2295 360.9L2297 361.2L2299 361.4L2301 361.7L2303 361.9L2305 362.2L2306.9 362.4L2308.9 362.7L2310.9 362.9L2312.9 363.2L2314.9 363.5L2316.9 363.7L2318.8 364L2320.8 364.2L2322.8 364.5L2324.8 364.8L2326.8 365L2328.8 365.3L2330.7 365.6L2332.7 365.8L2334.7 366.1"/>
</g>
</svg></body></html>
